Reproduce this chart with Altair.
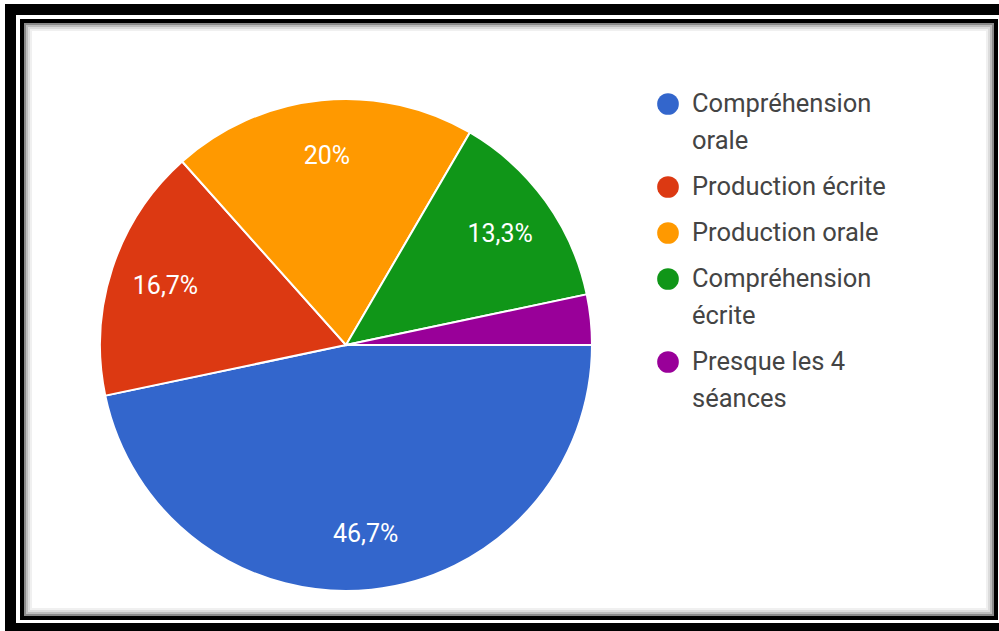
import math
import altair as alt
import pandas as pd

# ---- data ----
categories = ["Compréhension orale", "Production écrite", "Production orale",
              "Compréhension écrite", "Presque les 4 séances"]
legend_labels = ["Compréhension\norale", "Production écrite", "Production orale",
                 "Compréhension\nécrite", "Presque les 4\nséances"]
percent = [46.7, 16.7, 20.0, 13.3, 3.3]
slice_labels = ["46,7%", "16,7%", "20%", "13,3%", ""]
colors = ["#3366CC", "#DC3912", "#FF9900", "#109618", "#990099"]

pie_df = pd.DataFrame({
    "category": categories,
    "value": percent,
    "label": slice_labels,
    "legend": legend_labels,
    "idx": list(range(len(categories))),
})

W, H = 999, 631
CX, CY, R = 346, 345, 246

color = alt.Color("category:N", scale=alt.Scale(domain=categories, range=colors), legend=None)
theta = alt.Theta("value:Q", stack=True,
                  scale=alt.Scale(range=[math.pi / 2, math.pi / 2 + 2 * math.pi]))
order = alt.Order("idx:Q")

base = alt.Chart(pie_df)

arcs = base.mark_arc(radius=R, stroke="white", strokeWidth=2).encode(
    theta=theta, color=color, order=order,
    x=alt.value(CX), y=alt.value(CY),
)

labels = base.mark_text(radius=190, fontSize=25, font="Roboto", color="white").encode(
    theta=theta, order=order, text="label:N",
    x=alt.value(CX), y=alt.value(CY),
)

leg_base = base.transform_calculate(
    nlines="length(split(datum.legend, '\\n'))",
    lines="split(datum.legend, '\\n')",
).transform_window(
    cum="sum(nlines)", sort=[alt.SortField("idx")], frame=[None, 0]
).transform_calculate(
    ypos="104 + (datum.cum - datum.nlines) * 37 + datum.idx * 9"
)

leg_points = leg_base.mark_point(filled=True, shape="circle", size=470, opacity=1).encode(
    x=alt.value(668), y=alt.Y("ypos:Q", scale=None), color=color,
)
leg_text = leg_base.mark_text(align="left", baseline="middle", fontSize=25.5, font="Roboto",
                              color="#444444", lineHeight=37).encode(
    x=alt.value(692), y=alt.Y("ypos:Q", scale=None), text="lines:N",
)

dummy = alt.Chart(alt.Data(values=[{"a": 1}]))

def frame(x1, y1, x2, y2, sw, col):
    return dummy.mark_rect(filled=False, stroke=col, strokeWidth=sw).encode(
        x=alt.value(x1), x2=alt.value(x2), y=alt.value(y1), y2=alt.value(y2))

frames = [
    frame(10.5, 9.5, 1010, 628.5, 11, "black"),
    frame(31, 30, 987, 609, 2, "#f0f0f0"),
    frame(29, 28, 989, 611, 2, "#dcdcdc"),
    frame(27, 26, 991, 613, 2, "#bdbdbd"),
    frame(25, 24, 993, 615, 2, "#8a8a8a"),
    frame(22, 21, 996, 618, 4, "black"),
]

chart = alt.layer(*frames, arcs, labels, leg_points, leg_text).properties(
    width=W, height=H, padding=0, background="white",
    autosize=alt.AutoSizeParams(type="none"),
).configure_view(stroke=None)

chart.save("out.html", embed_options={"renderer": "svg", "actions": False})
